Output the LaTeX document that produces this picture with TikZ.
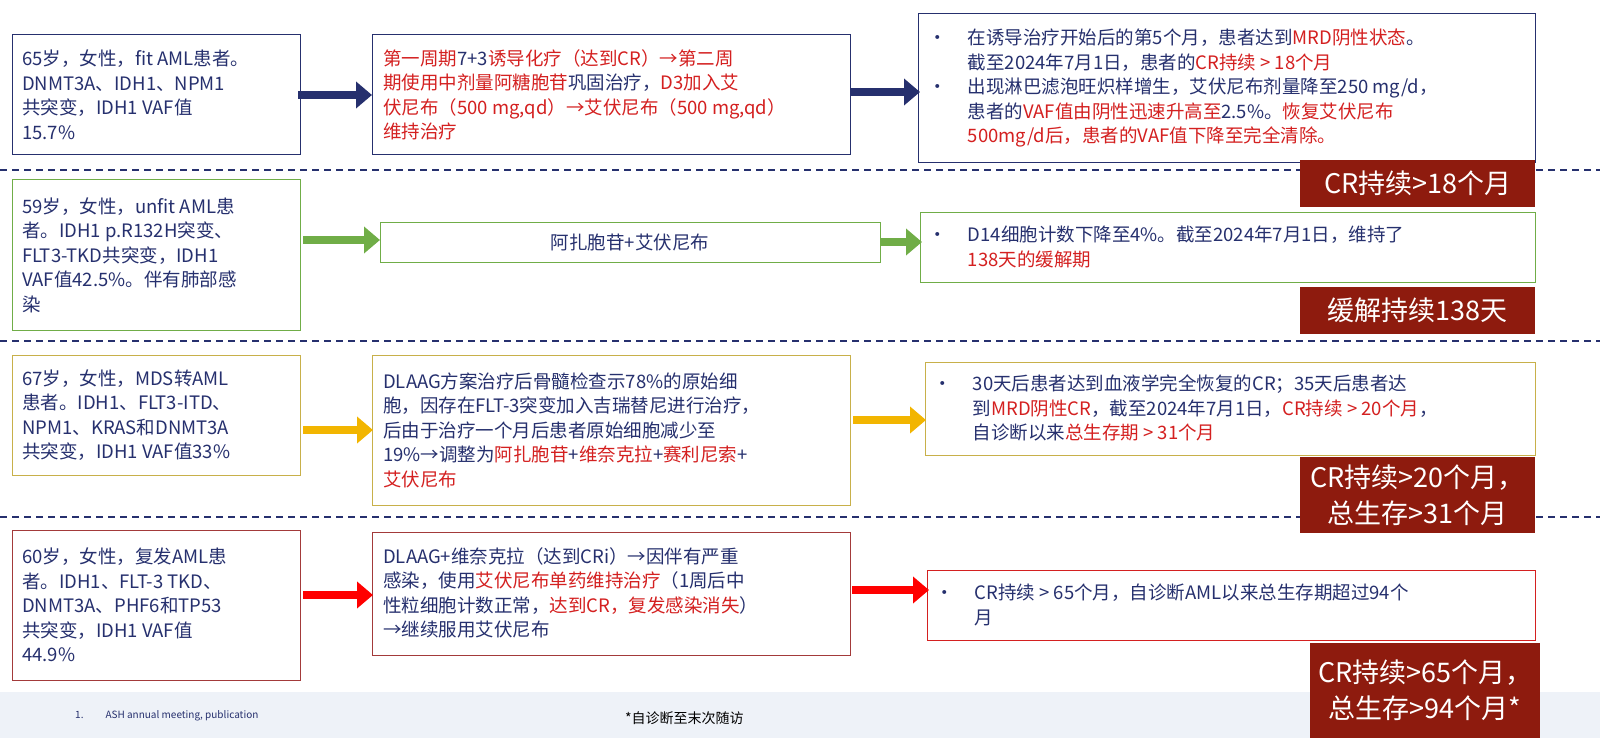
\documentclass[tikz,border=0pt]{standalone}
\usepackage{fontspec}
\setmainfont{Noto Sans CJK SC}
\usetikzlibrary{arrows.meta}
\definecolor{navy}{HTML}{26306E}
\definecolor{rd}{HTML}{D42020}
\definecolor{dred}{HTML}{8E1B0E}
\definecolor{grn}{HTML}{70AD47}
\definecolor{gold}{HTML}{C8B04A}
\definecolor{orng}{HTML}{F2B500}
\definecolor{brd}{HTML}{A33A3A}
\definecolor{foot}{HTML}{EEF2F8}
\tikzset{
 box/.style={draw=#1,line width=1pt,fill=white},
 txt/.style={anchor=west,inner sep=0pt,text=navy,font=\fontsize{18.5}{24.5}\selectfont,align=left},
 blk/.style={line width=8pt,draw=#1,-{Triangle[length=16pt,width=26pt]}},
 lab/.style={fill=dred,text=white,font=\fontsize{27}{36}\selectfont,inner sep=0pt,align=center},
 sep/.style={draw=navy,line width=1.3pt,dash pattern=on 7pt off 5pt}
}
\newcommand{\R}[1]{\textcolor{rd}{#1}}
\newcommand{\itm}{\par\hangindent=2.3em\hangafter=1\noindent\makebox[2.3em][l]{\hspace{0.2em}•}}
\newcommand{\bx}[1]{\parbox{600pt}{\fontsize{18.5}{24.5}\selectfont #1}}
\begin{document}
\begin{tikzpicture}[x=1pt,y=-1pt]
\useasboundingbox (0,0) rectangle (1600,738);
\fill[foot] (0,692) rectangle (1600,738);
% separators
\draw[sep] (0,170) -- (1600,170);
\draw[sep] (0,341) -- (1600,341);
\draw[sep] (0,517) -- (1600,517);
% row 1
\draw[box=navy] (12,35) rectangle (300,155);
\node[txt] (l1) at (22,95) {65岁，女性，fit AML患者。\\DNMT3A、IDH1、NPM1\\共突变，IDH1 VAF值\\15.7\%};
\draw[box=navy] (372,35) rectangle (850,155);
\node[txt] (m1) at (383,95) {\R{第一周期}7+3\R{诱导化疗（达到CR）→第二周}\\\R{期使用}\R{中剂量阿糖胞苷}巩固治疗，\R{D3加入艾}\\\R{伏尼布（500 mg,qd）→艾伏尼布（500 mg,qd）}\\\R{维持治疗}};
\draw[box=navy] (918,14) rectangle (1535,163);
\node[txt] (r1) at (925,88) {\bx{\itm 在诱导治疗开始后的第5个月，患者达到\R{MRD阴性状态}。\\截至2024年7月1日，患者的\R{CR持续 > 18个月}
\itm 出现淋巴滤泡旺炽样增生，艾伏尼布剂量降至250 mg/d，\\患者的\R{VAF值由阴性迅速升高至}2.5\%。\R{恢复艾伏尼布}\\\R{500mg/d后，患者的VAF值下降至完全清除。}}};
\node[lab,minimum width=235pt,minimum height=47pt,anchor=north west] (k1) at (1300,160) {CR持续>18个月};
\coordinate (a1s) at (298,95); \coordinate (a1e) at (372,95);
\coordinate (b1s) at (850,92); \coordinate (b1e) at (920,92);
\draw[blk=navy] (a1s) -- (a1e);
\draw[blk=navy] (b1s) -- (b1e);
% row 2
\draw[box=grn] (12,180) rectangle (300,330);
\node[txt] (l2) at (22,255) {59岁，女性，unfit AML患\\者。IDH1 p.R132H突变、\\FLT3-TKD共突变，IDH1\\VAF值42.5\%。伴有肺部感\\染};
\draw[box=grn] (380,222) rectangle (880,262);
\node[txt,anchor=center] (m2) at (630,242) {阿扎胞苷+艾伏尼布};
\draw[box=grn] (920,212) rectangle (1535,282);
\node[txt] (r2) at (925,247) {\bx{\itm D14细胞计数下降至4\%。截至2024年7月1日，维持了\\\R{138天的缓解期}}};
\node[lab,minimum width=235pt,minimum height=47pt,anchor=north west] (k2) at (1300,287) {缓解持续138天};
\coordinate (a2s) at (303,240); \coordinate (a2e) at (380,240);
\coordinate (b2s) at (880,242); \coordinate (b2e) at (922,242);
\draw[blk=grn] (a2s) -- (a2e);
\draw[blk=grn] (b2s) -- (b2e);
% row 3
\draw[box=gold] (12,355) rectangle (300,475);
\node[txt] (l3) at (22,415) {67岁，女性，MDS转AML\\患者。IDH1、FLT3-ITD、\\NPM1、KRAS和DNMT3A\\共突变，IDH1 VAF值33\%};
\draw[box=gold] (372,355) rectangle (850,505);
\node[txt] (m3) at (383,430) {DLAAG方案治疗后骨髓检查示78\%的原始细\\胞，因存在FLT-3突变加入吉瑞替尼进行治疗，\\后由于治疗一个月后患者原始细胞减少至\\19\%→调整为\R{阿扎胞苷}+\R{维奈克拉}+\R{赛利尼索}+\\\R{艾伏尼布}};
\draw[box=gold] (925,362) rectangle (1535,455);
\node[txt] (r3) at (930,408) {\bx{\itm 30天后患者达到血液学完全恢复的CR；35天后患者达\\到\R{MRD阴性CR}，截至2024年7月1日，\R{CR持续 > 20个月}，\\自诊断以来\R{总生存期 > 31个月}}};
\node[lab,minimum width=235pt,minimum height=76pt,anchor=north west] (k3) at (1300,457) {CR持续>20个月，\\总生存>31个月};
\coordinate (a3s) at (303,430); \coordinate (a3e) at (373,430);
\coordinate (b3s) at (853,420); \coordinate (b3e) at (926,420);
\draw[blk=orng] (a3s) -- (a3e);
\draw[blk=orng] (b3s) -- (b3e);
% row 4
\draw[box=brd] (12,530) rectangle (300,680);
\node[txt] (l4) at (22,605) {60岁，女性，复发AML患\\者。IDH1、FLT-3 TKD、\\DNMT3A、PHF6和TP53\\共突变，IDH1 VAF值\\44.9\%};
\draw[box=brd] (372,532) rectangle (850,655);
\node[txt] (m4) at (383,593) {DLAAG+维奈克拉（达到CRi）→因伴有严重\\感染，使用\R{艾伏尼布单药维持治疗}（1周后中\\性粒细胞计数正常，\R{达到CR，复发感染消失}）\\→继续服用艾伏尼布};
\draw[box=rd] (927,570) rectangle (1535,640);
\node[txt] (r4) at (932,605) {\bx{\itm CR持续 > 65个月，自诊断AML以来总生存期超过94个\\月}};
\node[lab,minimum width=230pt,minimum height=95pt,anchor=north west] (k4) at (1310,643) {CR持续>65个月，\\总生存>94个月*};
\coordinate (a4s) at (303,595); \coordinate (a4e) at (373,595);
\coordinate (b4s) at (852,590); \coordinate (b4e) at (929,590);
\draw[blk=red] (a4s) -- (a4e);
\draw[blk=red] (b4s) -- (b4e);
% footer
\node[anchor=west,inner sep=0pt,text=navy,font=\fontsize{10}{12}\selectfont] (f1) at (75,716) {1.\hspace{2.2em}ASH annual meeting, publication};
\node[anchor=west,inner sep=0pt,text=black,font=\fontsize{14}{16}\selectfont] (f2) at (625,718) {*自诊断至末次随访};
\end{tikzpicture}
\end{document}
